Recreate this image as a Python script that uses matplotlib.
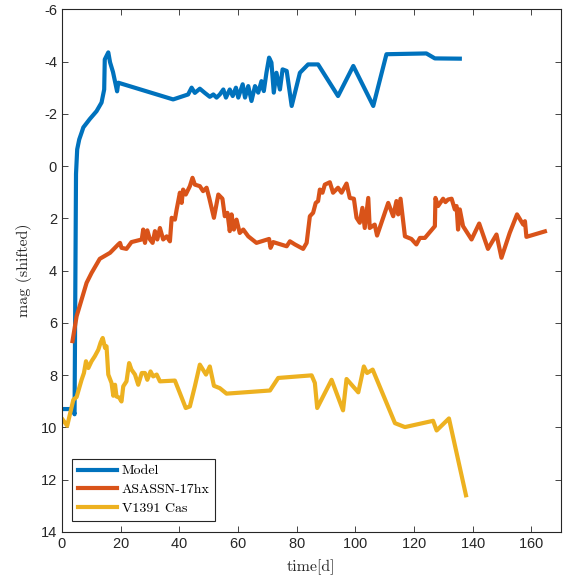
import matplotlib
matplotlib.use("Agg")
import matplotlib.pyplot as plt

# light curves (days, shifted magnitude)
model_t = [0, 3.8, 4.3, 4.6, 4.8, 5.2, 5.9, 6.7, 7.3, 9.5, 11.8, 13.5, 14.4, 14.6, 15.8,
           16.4, 17.4, 18.8, 19.2, 37.9, 43.0, 44.2, 45.3, 47.0, 48.7, 50.4, 51.6, 52.7,
           53.8, 55.0, 55.9, 57.2, 58.2, 59.3, 60.1, 61.6, 62.4, 63.5, 64.6, 65.8, 66.9,
           68.0, 68.8, 69.7, 70.6, 71.4, 72.2, 73.1, 74.3, 75.2, 76.6, 78.3, 81.1, 83.9,
           87.3, 94.1, 99.3, 106.1, 110.6, 124.2, 127.1, 135.6]
model_m = [9.3, 9.3, 9.5, 4.0, 0.3, -0.64, -1.02, -1.28, -1.48, -1.8, -2.1, -2.43, -2.93,
           -4.08, -4.35, -3.97, -3.6, -2.86, -3.19, -2.55, -2.74, -3.0, -2.8, -2.96, -2.8,
           -2.65, -2.74, -2.62, -2.74, -2.93, -2.62, -2.93, -2.68, -3.0, -2.62, -3.13,
           -2.62, -3.06, -2.49, -3.06, -2.81, -3.25, -2.87, -3.57, -4.15, -3.96, -2.81,
           -3.57, -2.93, -3.7, -3.64, -2.3, -3.57, -3.89, -3.89, -2.68, -3.83, -2.3, -4.28,
           -4.31, -4.12, -4.11]

asassn_t = [3.6, 5.0, 8.4, 10.1, 12.9, 16.4, 19.2, 19.8, 20.3, 22.0, 23.7, 27.2, 27.7, 28.3,
            29.1, 30.0, 30.9, 31.7, 32.5, 33.4, 34.5, 35.7, 36.8, 37.4, 38.5, 39.1, 40.2,
            40.8, 41.3, 42.2, 43.6, 44.5, 45.3, 47.0, 48.1, 49.3, 50.2, 51.8, 53.3, 54.7,
            55.5, 56.4, 57.2, 57.8, 58.6, 59.5, 60.6, 61.8, 63.5, 66.3, 70.6, 71.1, 72.0,
            76.6, 77.7, 79.4, 82.2, 83.4, 84.5, 85.6, 86.5, 87.3, 87.9, 88.8, 89.6, 91.3,
            92.4, 94.1, 95.3, 97.0, 98.1, 99.5, 100.4, 101.5, 102.4, 103.2, 104.4, 104.9,
            106.6, 107.4, 111.2, 112.9, 114.0, 114.6, 115.4, 116.9, 119.1, 120.8, 122.0,
            123.7, 127.1, 127.3, 128.2, 129.9, 130.7, 131.6, 132.8, 133.9, 134.5, 135.0,
            135.6, 136.7, 139.6, 142.2, 145.2, 148.1, 149.8, 152.6, 155.1, 157.2, 157.8,
            158.3, 164.6]
asassn_m = [6.7, 5.75, 4.47, 4.09, 3.55, 3.32, 3.0, 2.94, 3.13, 3.17, 2.91, 2.81, 2.43, 2.94,
            2.46, 2.81, 2.94, 2.49, 2.81, 2.37, 2.81, 2.69, 2.88, 1.98, 2.05, 1.66, 1.02,
            1.41, 0.9, 1.09, 0.77, 0.45, 0.71, 0.77, 0.96, 0.83, 1.22, 1.98, 1.09, 1.25,
            1.92, 1.79, 2.49, 1.85, 2.43, 2.05, 2.56, 2.43, 2.69, 2.94, 2.79, 3.13, 2.91,
            3.07, 2.88, 3.0, 3.17, 2.94, 1.92, 1.79, 1.41, 1.34, 0.9, 1.02, 0.71, 0.62,
            1.02, 0.83, 1.02, 0.67, 1.22, 1.25, 1.98, 2.17, 1.6, 2.37, 1.22, 2.37, 2.24,
            2.66, 1.41, 1.92, 1.34, 1.85, 1.25, 2.69, 2.79, 3.0, 2.75, 2.75, 2.30, 1.22,
            1.53, 1.25, 1.38, 1.28, 1.25, 1.66, 1.53, 2.43, 1.66, 2.30, 2.81, 2.20, 3.17,
            2.62, 3.51, 2.56, 1.85, 2.24, 2.11, 2.71, 2.5]

cas_t = [0.3, 1.8, 3.9, 5.0, 6.7, 7.5, 8.2, 9.0, 10.1, 11.2, 12.4, 13.2, 13.9, 14.7, 15.2,
         15.8, 16.9, 17.5, 18.1, 18.6, 19.5, 20.3, 20.9, 22.0, 22.9, 23.7, 24.9, 26.0, 27.2,
         28.3, 29.1, 30.2, 31.1, 32.3, 33.4, 38.5, 40.2, 42.2, 43.6, 45.3, 47.0, 49.1, 50.4,
         51.8, 53.8, 56.1, 70.9, 73.7, 85.1, 86.2, 87.0, 91.9, 95.8, 97.0, 101.0, 102.9,
         104.0, 105.9, 113.5, 116.9, 126.5, 127.7, 131.9, 137.7]
cas_m = [9.71, 9.94, 8.94, 8.84, 8.18, 7.92, 7.47, 7.73, 7.47, 7.28, 7.03, 6.75, 6.58, 6.96,
         6.9, 7.98, 8.3, 8.79, 8.37, 8.82, 8.86, 9.01, 8.43, 8.24, 7.54, 7.79, 7.98, 8.37,
         7.92, 7.92, 8.18, 7.86, 8.05, 7.98, 8.24, 8.21, 8.69, 9.26, 9.2, 8.43, 7.6, 7.98,
         7.67, 8.41, 8.5, 8.71, 8.59, 8.11, 8.01, 8.3, 9.26, 8.18, 9.35, 8.15, 8.66, 7.67,
         7.92, 7.79, 9.84, 9.99, 9.75, 10.12, 9.66, 12.6]

series_labels = ["Model", "ASASSN-17hx", "V1391 Cas"]
x_ticks = [0, 20, 40, 60, 80, 100, 120, 140, 160]
y_ticks = [-6, -4, -2, 0, 2, 4, 6, 8, 10, 12, 14]

# MATLAB default colour order
COLORS = ["#0072BD", "#D95319", "#EDB120"]
INK = "#262626"
SERIF = "cmr10"

plt.rcParams["font.family"] = ["Liberation Sans", "DejaVu Sans"]
plt.rcParams["axes.formatter.use_mathtext"] = True

fig = plt.figure(figsize=(5.63, 5.80), dpi=100)
ax = fig.add_axes([0.110, 0.083, 0.886, 0.901])

for (t, m), color, label in zip(
    [(model_t, model_m), (asassn_t, asassn_m), (cas_t, cas_m)], COLORS, series_labels
):
    ax.plot(t, m, color=color, lw=3.0, label=label, solid_joinstyle="round")

ax.set_xlim(0, 170)
ax.set_ylim(14, -6)
ax.set_xticks(x_ticks)
ax.set_yticks(y_ticks)
ax.tick_params(direction="in", length=4, width=0.6, colors=INK, labelsize=10.5,
               top=True, right=True)
ax.set_yticklabels([str(v) for v in y_ticks])
for s in ax.spines.values():
    s.set_color(INK)
    s.set_linewidth(0.8)

ax.set_xlabel("time[d]", family=SERIF, fontsize=11.5, color=INK, labelpad=6)
ax.set_ylabel("mag (shifted)", family=SERIF, fontsize=11.5, color=INK, labelpad=6)

leg = ax.legend(loc="lower left", bbox_to_anchor=(0.021, 0.021), borderaxespad=0,
                prop={"family": SERIF, "size": 10},
                handlelength=2.8, handletextpad=0.35, borderpad=0.4, labelspacing=0.45,
                fancybox=False, framealpha=1, edgecolor=INK)
leg.get_frame().set_linewidth(0.8)

fig.savefig("out.png", dpi=100)
